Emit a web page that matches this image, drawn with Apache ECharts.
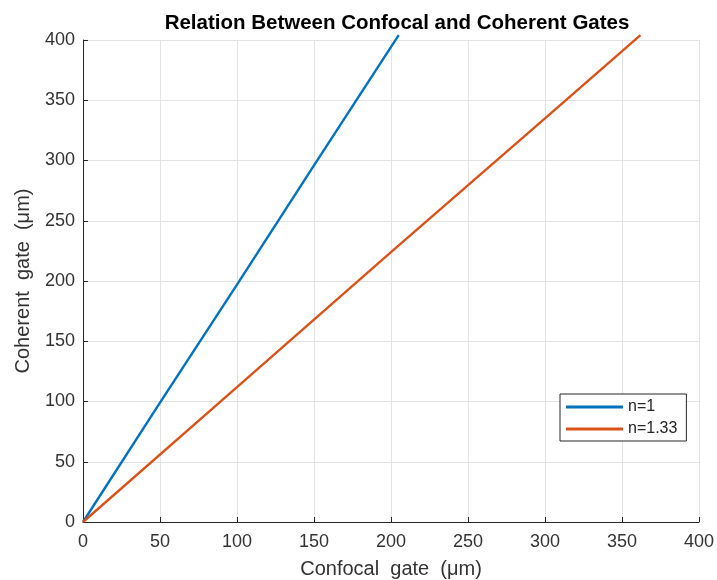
<!DOCTYPE html>
<html>
<head>
<meta charset="utf-8">
<script src="https://cdn.jsdelivr.net/npm/echarts@6/dist/echarts.min.js"></script>
<style>
  html, body { margin: 0; padding: 0; background: #fff; }
  #main { width: 717px; height: 580px; }
</style>
</head>
<body>
<div id="main"></div>
<script>
// values
var confocalN1 = [0, 50, 100, 150, 205];
var coherentN1 = [0, 99, 197, 296, 404];
var confocalN133 = [0, 100, 200, 300, 362];
var coherentN133 = [0, 112, 224, 335, 404];
var seriesNames = ['n=1', 'n=1.33'];
var xTicks = [0, 50, 100, 150, 200, 250, 300, 350, 400];
var yTicks = [0, 50, 100, 150, 200, 250, 300, 350, 400];

function pairs(xs, ys) {
  var out = [];
  for (let i = 0; i < xs.length; i = i + 1) {
    out.push([xs[i], ys[i]]);
  }
  return out;
}

var chartDom = document.getElementById('main');
var myChart = echarts.init(chartDom);
var option;

var fontFam = '"Liberation Sans", Arial, sans-serif';

option = {
  backgroundColor: '#fff',
  animation: false,
  title: {
    text: 'Relation Between Confocal and Coherent Gates',
    left: 392,
    textAlign: 'center',
    top: 8,
    textStyle: {
      fontFamily: fontFam,
      fontWeight: 'bold',
      fontSize: 20.5,
      color: '#000'
    }
  },
  legend: {
    orient: 'vertical',
    left: 560,
    top: 394,
    padding: [5, 9, 4, 6],
    itemGap: 6,
    itemWidth: 57,
    itemHeight: 3,
    backgroundColor: '#fff',
    borderColor: '#262626',
    borderWidth: 1,
    borderRadius: 0,
    icon: 'rect',
    textStyle: { fontFamily: fontFam, fontSize: 16, color: '#262626' },
    data: seriesNames
  },
  grid: {
    left: 83,
    right: 18,
    top: 40,
    bottom: 58,
    containLabel: false,
    outerBoundsMode: 'none'
  },
  xAxis: {
    type: 'value',
    min: xTicks[0],
    max: xTicks[xTicks.length - 1],
    interval: 50,
    name: 'Confocal  gate  (μm)',
    nameLocation: 'middle',
    nameGap: 37,
    nameTextStyle: { fontFamily: fontFam, fontSize: 20, color: '#333' },
    axisLine: { onZero: false, lineStyle: { color: '#262626', width: 1 } },
    axisTick: { inside: true, length: 5, lineStyle: { color: '#262626' } },
    axisLabel: { fontFamily: fontFam, fontSize: 18, color: '#333', margin: 11 },
    splitLine: { show: true, lineStyle: { color: '#e3e3e3', width: 1 } }
  },
  yAxis: {
    type: 'value',
    min: yTicks[0],
    max: yTicks[yTicks.length - 1],
    interval: 50,
    name: 'Coherent  gate  (μm)',
    nameLocation: 'middle',
    nameGap: 50,
    nameTextStyle: { fontFamily: fontFam, fontSize: 20, color: '#333' },
    axisLine: { show: true, onZero: false, lineStyle: { color: '#262626', width: 1 } },
    axisTick: { show: true, inside: true, length: 5, lineStyle: { color: '#262626' } },
    axisLabel: { fontFamily: fontFam, fontSize: 18, color: '#333', margin: 8 },
    splitLine: { show: true, lineStyle: { color: '#e3e3e3', width: 1 } }
  },
  series: [
    {
      name: seriesNames[0],
      type: 'line',
      showSymbol: false,
      clip: false,
      color: '#0072BD',
      lineStyle: { width: 2.4, color: '#0072BD' },
      data: pairs(confocalN1, coherentN1)
    },
    {
      name: seriesNames[1],
      type: 'line',
      showSymbol: false,
      clip: false,
      color: '#D95319',
      lineStyle: { width: 2.4, color: '#D95319' },
      data: pairs(confocalN133, coherentN133)
    }
  ]
};

option && myChart.setOption(option);
</script>
</body>
</html>
